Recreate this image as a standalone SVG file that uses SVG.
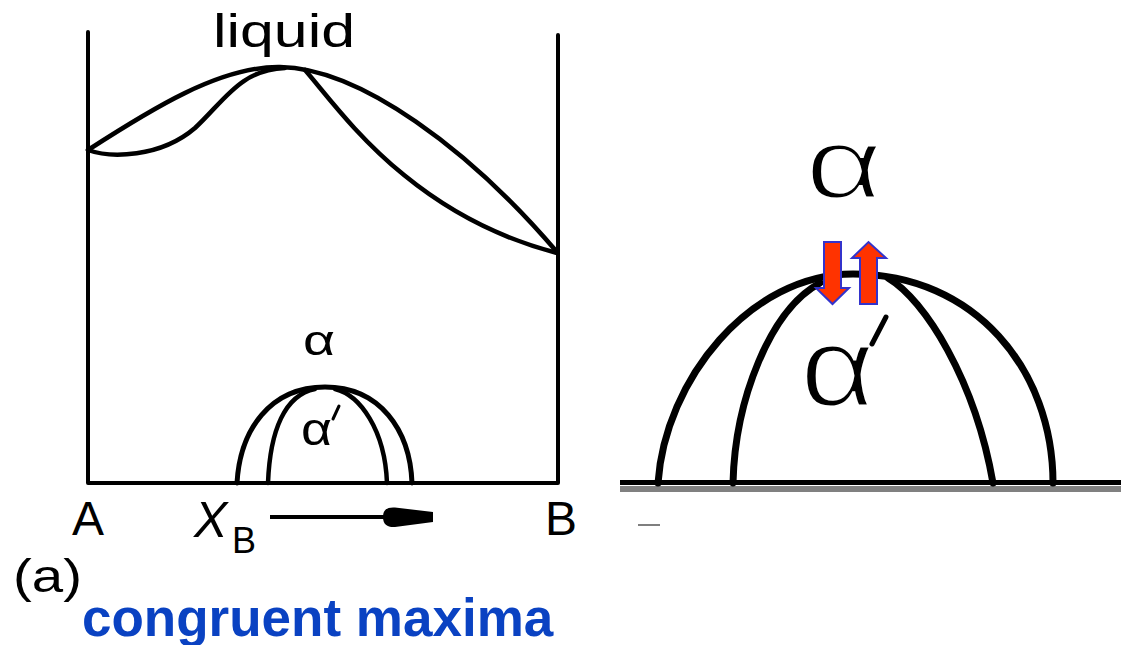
<svg xmlns="http://www.w3.org/2000/svg" width="1121" height="645" viewBox="0 0 1121 645">
<style>
.ln{fill:none;stroke:#000;stroke-linecap:round;stroke-linejoin:round}
.t{font-family:"Liberation Sans",Arial,sans-serif;fill:#000}
.thin{stroke:#fff;stroke-width:3;paint-order:normal}
.red{fill:#FF3300;stroke:#3333CC;stroke-width:2;stroke-linejoin:miter}
</style>
<rect width="1121" height="645" fill="#fff"/>
<g id="left-diagram">
  <path class="ln" d="M88,32 V483 H558 V35" stroke-width="4" stroke-linecap="butt"/>
  <g id="liquidus">
    <path class="ln" stroke-width="4.5" d="M88,150 C150,110 220,66 280,67 C360,68 470,150 557,252"/>
    <path class="ln" stroke-width="4.5" d="M88,150 C110,158 160,158 195,128 C225,100 240,70 285,68"/>
    <path class="ln" stroke-width="4.5" d="M305,70 C340,110 410,215 557,253"/>
  </g>
  <g id="dome-left">
    <path class="ln" stroke-width="5" d="M237,483 C240,430 270,387 325,387 C380,387 410,430 412,483"/>
    <path class="ln" stroke-width="4.5" d="M268,483 C270,430 285,395 315,389"/>
    <path class="ln" stroke-width="4.5" d="M335,389 C360,395 385,430 387,483"/>
  </g>
  <text class="t" x="213" y="47" font-size="46" textLength="142" lengthAdjust="spacingAndGlyphs">liquid</text>
  <text class="t" x="303" y="355" font-size="43" textLength="32" lengthAdjust="spacingAndGlyphs">α</text>
  <text class="t" x="301" y="445" font-size="46" textLength="31" lengthAdjust="spacingAndGlyphs">α</text>
  <line class="ln" x1="333" y1="419" x2="339" y2="406" stroke-width="3"/>
  <text class="t" x="72" y="535" font-size="48">A</text>
  <text class="t" x="545" y="535" font-size="48">B</text>
  <text class="t" x="194" y="537" font-size="50" font-style="italic">X</text>
  <text class="t" x="232" y="553" font-size="36">B</text>
  <g id="xb-arrow">
    <line x1="270" y1="517" x2="390" y2="517" stroke="#000" stroke-width="4"/>
    <path d="M383,517 C383,509 388,507 395,507.5 L433,512 L433,522 L395,527 C388,527.5 383,525 383,517 Z" fill="#000"/>
  </g>
  <text class="t" x="13" y="592" font-size="46" textLength="69" lengthAdjust="spacingAndGlyphs">(a)</text>
  <text x="82" y="636" font-family="Liberation Sans, Arial, sans-serif" font-weight="bold" font-size="53" fill="#0A42C2">congruent maxima</text>
</g>
<g id="right-diagram">
  <line x1="620" y1="489" x2="1121" y2="489" stroke="#808080" stroke-width="6"/>
  <line x1="620" y1="482.5" x2="1121" y2="482.5" stroke="#000" stroke-width="5"/>
  <line x1="638" y1="525" x2="660" y2="525" stroke="#555" stroke-width="1.5"/>
  <path class="ln" stroke-width="7" d="M658,483 C665,380 750,274 853,274 C975,274 1053,370 1053,483"/>
  <path class="ln" stroke-width="7" d="M733,483 C735,400 770,310 820,283"/>
  <path class="ln" stroke-width="7" d="M888,278 C925,300 975,380 993,483"/>
  <text class="t thin" x="805" y="198" font-size="100" textLength="78" lengthAdjust="spacingAndGlyphs">α</text>
  <text class="t thin" x="800" y="406" font-size="113" textLength="75" lengthAdjust="spacingAndGlyphs">α</text>
  <line class="ln" x1="872" y1="344" x2="886" y2="317" stroke-width="5"/>
  <g id="exchange-arrows">
    <polygon class="red" points="824,242 841,242 841,288 849,288 832.5,304 816,288 824,288"/>
    <polygon class="red" points="860,304 877,304 877,258 886,258 868.5,242 852,258 860,258"/>
  </g>
</g>
</svg>
